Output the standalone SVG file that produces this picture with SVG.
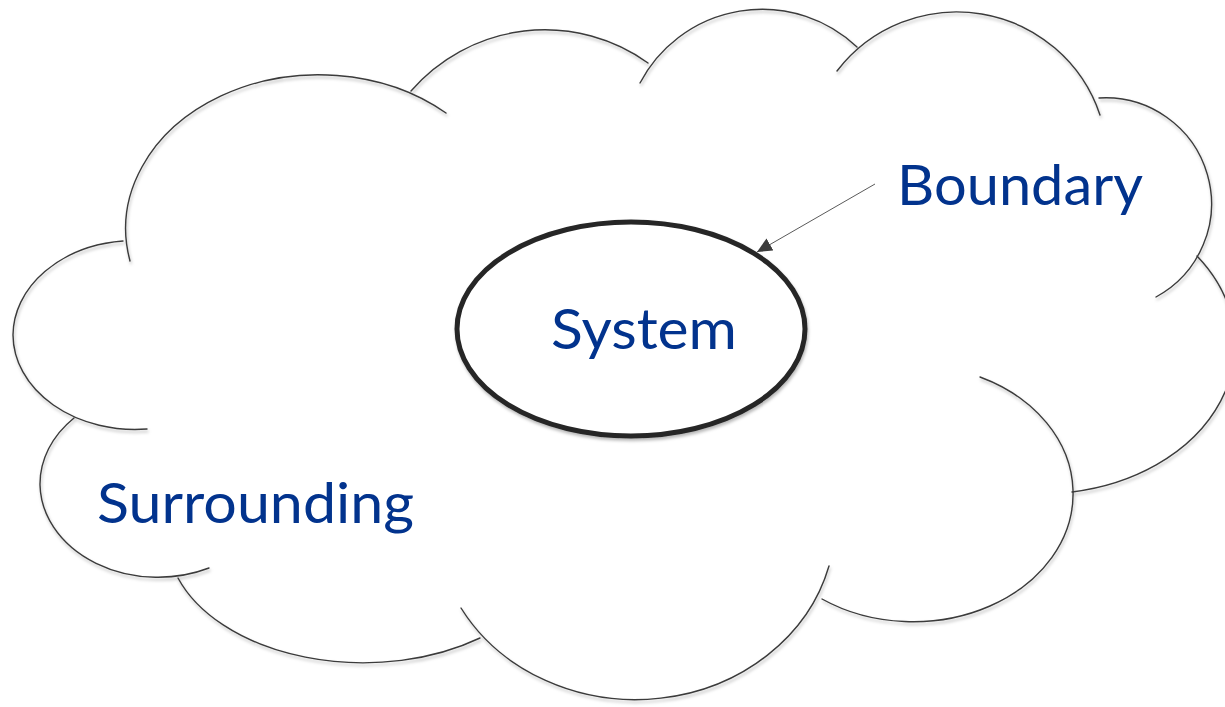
<svg xmlns="http://www.w3.org/2000/svg" width="1225" height="707" viewBox="0 0 1225 707">
  <style>
    .lobe { fill: none; stroke: #3a3a3a; stroke-width: 1.4; stroke-linecap: round; }
    .label { font-family: Lato, "Open Sans", "Liberation Sans", sans-serif; font-size: 56px; fill: #02338d; }
    .link { stroke: #5a5a5a; stroke-width: 1; fill: none; }
  </style>
  <defs>
    <filter id="softShadow" x="-10%" y="-10%" width="120%" height="130%">
      <feDropShadow dx="1" dy="2.5" stdDeviation="1.6" flood-color="#000" flood-opacity="0.28"/>
    </filter>
    <marker id="arrowHead" viewBox="0 0 15 14" refX="15" refY="7" markerWidth="15" markerHeight="14" markerUnits="userSpaceOnUse" orient="auto">
      <path d="M0,0 L15,7 L0,14 Z" fill="#3c3c3c"/>
    </marker>
  </defs>

  <rect width="1225" height="707" fill="#ffffff"/>

  <!-- surrounding: cloud made of overlapping lobes -->
  <g id="surrounding" filter="url(#softShadow)">
    <path class="lobe" d="M130,261 A193,154 0 0 1 446,113"/>
    <path class="lobe" d="M411,91 A177,177 0 0 1 648,63"/>
    <path class="lobe" d="M640,83 A138,138 0 0 1 857,47"/>
    <path class="lobe" d="M837,71 A151,151 0 0 1 1100,115"/>
    <path class="lobe" d="M1099,98 A106,106 0 0 1 1156,297"/>
    <path class="lobe" d="M1197,256 A193,149 0 0 1 1072,492"/>
    <path class="lobe" d="M980,377 A160,128 0 0 1 1073,490 A160,128 0 0 1 822,599"/>
    <path class="lobe" d="M829,566 A200,179 0 0 1 461,608"/>
    <path class="lobe" d="M480,638 A196,126 0 0 1 178,578"/>
    <path class="lobe" d="M209,568 A118,94 0 0 1 40,485 A118,94 0 0 1 74,418"/>
    <path class="lobe" d="M147,429 A122,95 0 0 1 13,335 A122,95 0 0 1 123,241"/>
  </g>
  <g id="surrounding-label">
    <text class="label" x="97" y="523" textLength="317" lengthAdjust="spacingAndGlyphs">Surrounding</text>
  </g>

  <!-- system -->
  <g id="system">
    <ellipse cx="631" cy="329" rx="174" ry="107" fill="#ffffff" stroke="#262626" stroke-width="5" filter="url(#softShadow)"/>
    <text class="label" x="551" y="349" textLength="186" lengthAdjust="spacingAndGlyphs">System</text>
  </g>

  <!-- boundary label -->
  <g id="boundary">
    <text class="label" x="897" y="205" textLength="246" lengthAdjust="spacingAndGlyphs">Boundary</text>
  </g>

  <!-- connectors -->
  <g id="connectors">
    <line class="link" x1="875" y1="184" x2="757" y2="252" marker-end="url(#arrowHead)"/>
  </g>
</svg>
